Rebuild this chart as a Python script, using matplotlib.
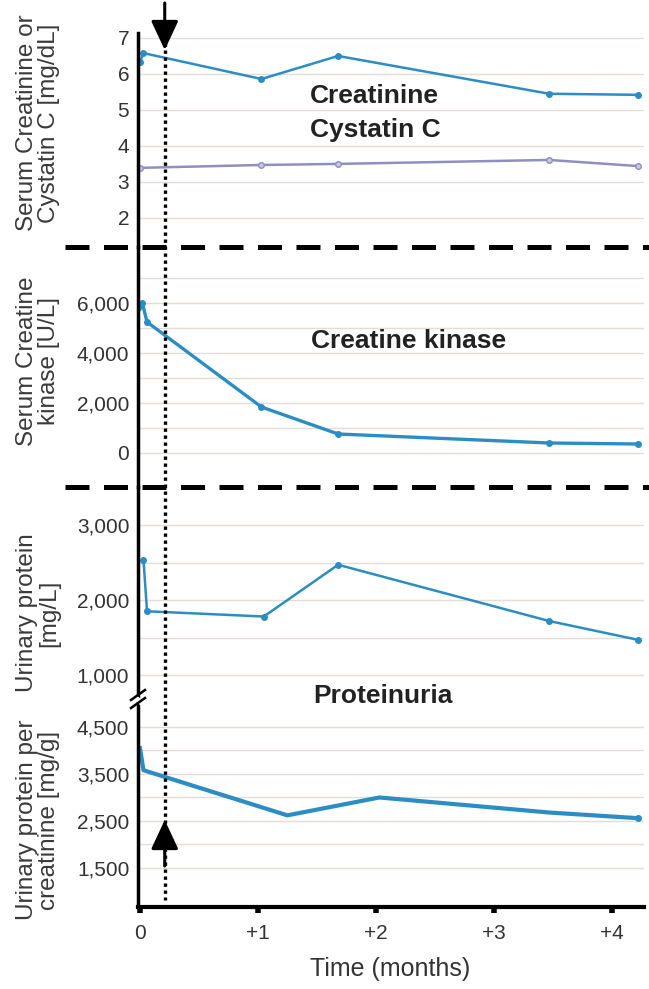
import matplotlib
matplotlib.use("Agg")
from matplotlib import pyplot as plt
from matplotlib.lines import Line2D
from matplotlib.transforms import blended_transform_factory
import numpy as np

plt.rcParams['font.family'] = ['Liberation Sans', 'DejaVu Sans']

# creatinine / cystatin C (mg/dL)
crea_t = [0.0, 0.03, 1.03, 1.68, 3.47, 4.22]
crea_v = [6.33, 6.58, 5.86, 6.5, 5.45, 5.42]
cys_t = [0.0, 1.03, 1.68, 3.47, 4.22]
cys_v = [3.39, 3.47, 3.5, 3.61, 3.44]

# creatine kinase (U/L)
ck_t = [0.0, 0.02, 0.06, 1.03, 1.68, 3.47, 4.22]
ck_v = [5750, 6000, 5240, 1840, 760, 400, 360]

# urinary protein (mg/L)
up_t = [0.03, 0.06, 1.05, 1.68, 3.47, 4.22]
up_v = [2530, 1850, 1780, 2470, 1720, 1470]

# urinary protein per creatinine (mg/g)
upc_t = [0.0, 0.03, 1.25, 2.03, 3.47, 4.22]
upc_v = [4050, 3580, 2620, 3000, 2680, 2560]

event_t = 0.21

x_ticks = [0, 1, 2, 3, 4]
x_labels = ["0", "+1", "+2", "+3", "+4"]

W, H = 649, 989
fig = plt.figure(figsize=(W / 100, H / 100), dpi=100)

def fy(py):
    return (H - py) / H

def mk_ax(top, bottom):
    ax = fig.add_axes([137.6 / W, fy(bottom), 506 / W, (bottom - top) / H])
    ax.set_xlim(-0.02, 4.27)
    for s in ["top", "right", "bottom"]:
        ax.spines[s].set_visible(False)
    ax.spines["left"].set_linewidth(2.5)
    ax.tick_params(axis="y", which="both", length=0, labelsize=15, pad=6, labelcolor="#333333")
    ax.tick_params(axis="x", which="both", bottom=False, labelbottom=False)
    ax.grid(True, axis="y", which="both", color="#e4ddd6", lw=1.0)
    ax.set_axisbelow(True)
    ax.patch.set_alpha(0)
    return ax

blue = "#2b8dc3"
purple = "#8e8ec2"

ax1 = mk_ax(32.6, 247)
ax1.set_ylim(1.19, 7.15)
ax1.set_yticks([2, 3, 4, 5, 6, 7])
ax1.plot(crea_t, crea_v, "-o", color=blue, lw=1.8, ms=4)
ax1.plot(cys_t, cys_v, "-o", color=purple, lw=1.8, ms=4, mfc="#c9c9e2")

ax2 = mk_ax(247, 487)
ax2.set_ylim(-1360, 8240)
ax2.set_yticks([0, 2000, 4000, 6000])
ax2.set_yticklabels(["0", "2,000", "4,000", "6,000"])
ax2.set_yticks([1000, 3000, 5000, 7000], minor=True)
ax2.plot(ck_t, ck_v, "-o", color=blue, lw=2.4, ms=4, markevery=[1, 2, 3, 4, 5, 6])

ax3 = mk_ax(487, 700)
ax3.set_ylim(667, 3507)
ax3.set_yticks([1000, 2000, 3000])
ax3.set_yticklabels(["1,000", "2,000", "3,000"])
ax3.set_yticks([1500, 2500], minor=True)
ax3.plot(up_t, up_v, "-o", color=blue, lw=1.8, ms=4)

ax4 = mk_ax(700, 907)
ax4.set_ylim(670, 5074)
ax4.set_yticks([1500, 2500, 3500, 4500])
ax4.set_yticklabels(["1,500", "2,500", "3,500", "4,500"])
ax4.set_yticks([2000, 3000, 4000], minor=True)
ax4.plot(upc_t, upc_v, "-", color=blue, lw=3.0)
ax4.plot(upc_t[-1:], upc_v[-1:], "o", color=blue, ms=4)
ax4.spines["bottom"].set_visible(True)
ax4.spines["bottom"].set_linewidth(3)
ax4.set_xticks(x_ticks)
ax4.set_xticklabels(x_labels)
ax4.tick_params(axis="x", bottom=True, labelbottom=True, direction="out", length=4, width=4,
                labelsize=15, pad=8, labelcolor="#333333")
ax4.set_xlabel("Time (months)", fontsize=18, color="#333333", labelpad=10)

# panel separators
for py in [247, 487]:
    fig.add_artist(Line2D([65 / W, 1.0], [fy(py), fy(py)], color="k", lw=3.6,
                          linestyle=(0, (4.8, 2.9)), solid_capstyle="butt"))

# axis break marks
fig.add_artist(Line2D([134 / W, 142 / W], [fy(697), fy(703)], color="white", lw=4))
for off in [-4, 4]:
    fig.add_artist(Line2D([131 / W, 145 / W], [fy(704 + off), fy(694 + off)], color="k", lw=1.8))

# treatment marker: dotted line + arrows
bt = blended_transform_factory(ax4.transData, fig.transFigure)
fig.add_artist(Line2D([event_t, event_t], [fy(43), fy(900)], transform=bt, color="k", lw=2.4,
                      linestyle=(0, (1, 1.1)), dash_capstyle="butt"))
for tail, tip in [(3, 50), (866, 820)]:
    ax4.annotate("", xy=(event_t, fy(tip)), xytext=(event_t, fy(tail)), xycoords=bt, textcoords=bt,
                 arrowprops=dict(arrowstyle="-|>,head_length=0.9,head_width=0.42", lw=2.2,
                                 color="k", mutation_scale=20, shrinkA=0, shrinkB=0),
                 annotation_clip=False)

# panel titles
tkw = dict(fontsize=19, fontweight="bold", color="#222222", ha="left", va="center")
fig.text(310 / W, fy(96), "Creatinine", **tkw)
fig.text(310 / W, fy(130), "Cystatin C", **tkw)
fig.text(311 / W, fy(341), "Creatine kinase", **tkw)
fig.text(313 / W, fy(696), "Proteinuria", **tkw)

# y labels
lkw = dict(fontsize=17.5, color="#3a3a3a", rotation=90, ha="center", va="center", multialignment="center",
           linespacing=1.05)
fig.text(38 / W, fy(123), "Serum Creatinine or\nCystatin C [mg/dL]", **lkw)
fig.text(38 / W, fy(361), "Serum Creatine\nkinase [U/L]", **lkw)
fig.text(38 / W, fy(613), "Urinary protein\n[mg/L]", **lkw)
fig.text(38 / W, fy(820), "Urinary protein per\ncreatinine [mg/g]", **lkw)

plt.savefig("out.png", dpi=100)
